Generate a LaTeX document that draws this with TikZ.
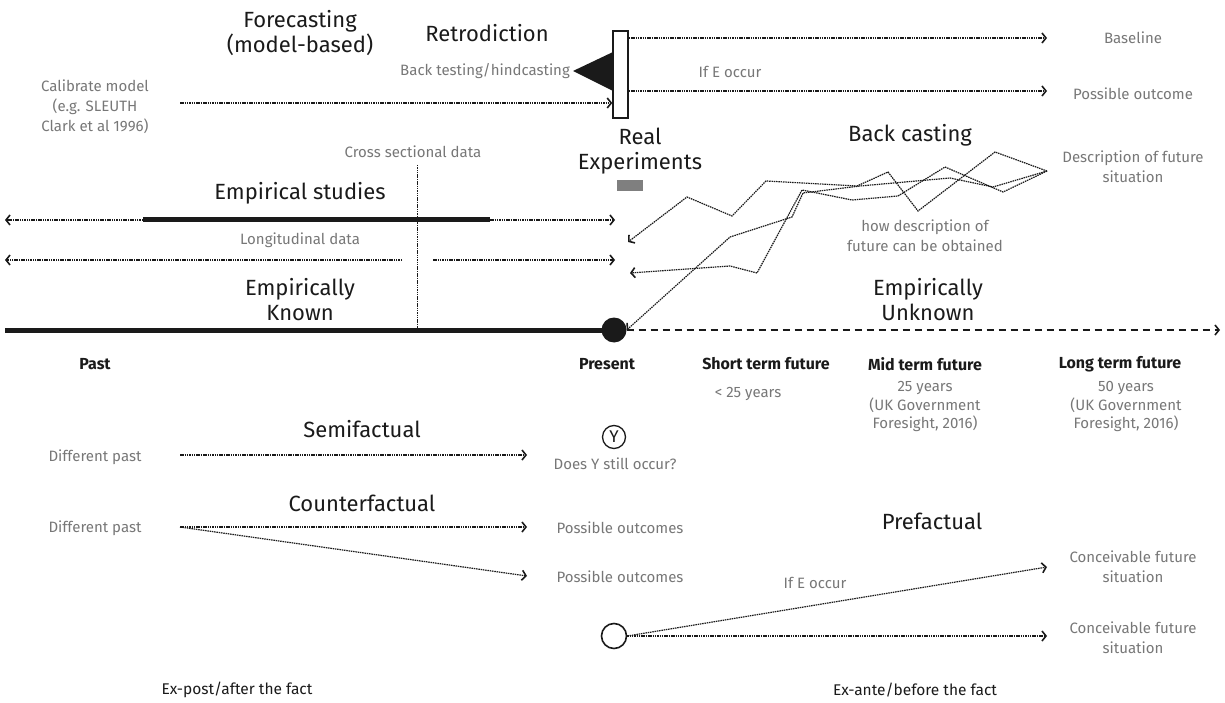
\documentclass[tikz,border=0pt]{standalone}
\usepackage{fontspec}
\setmainfont{Fira Sans}
\usetikzlibrary{arrows.meta}
\definecolor{ink}{HTML}{1A1A1A}
\definecolor{note}{HTML}{777777}
\definecolor{block}{HTML}{7F7F7F}
\tikzset{
  big/.style={font=\fontsize{22}{25}\selectfont, text=ink, align=center, inner sep=0pt},
  small/.style={font=\fontsize{15}{20}\selectfont, text=note, align=center, inner sep=0pt},
  era/.style={font=\bfseries\fontsize{16}{18}\selectfont, text=ink, inner sep=0pt},
  foot/.style={font=\fontsize{15.5}{19}\selectfont, text=ink, inner sep=0pt},
  dots/.style={draw=ink, line width=1.2pt, dash pattern=on 1.5pt off 0.8pt},
  tip/.style={-{Straight Barb[length=4pt,width=10pt,line width=1.6pt]}},
  heavy/.style={draw=ink, line width=5pt},
}
\begin{document}
\begin{tikzpicture}[x=1pt,y=-1pt]
\useasboundingbox (0,0) rectangle (1225,703);

% ---------- forecasting / retrodiction ----------
\node[big] (fc) at (300,33) {Forecasting\\(model-based)};
\node[big] (retro) at (487,33) {Retrodiction};
\node[small] (calib) at (95,107) {Calibrate model\\(e.g. SLEUTH\\Clark et al 1996)};
\node[draw=ink, fill=white, line width=1.5pt, minimum width=15pt, minimum height=87pt, inner sep=0pt] (box) at (620.5,74.5) {};
\fill[ink] (613,52) -- (573,71) -- (613,91) -- cycle;
\node[small, anchor=east] (hind) at (570,71) {Back testing/hindcasting};
\coordinate (calibstart) at (180,103);
\draw[dots,tip] (calibstart) -- (box.west |- calibstart);

\node[small] (base) at (1133,38) {Baseline};
\node[small] (poss) at (1133,94) {Possible outcome};
\coordinate (baseend) at (1047,38);
\coordinate (possend) at (1047,91);
\draw[dots,tip] (box.east |- baseend) -- (baseend);
\draw[dots,tip] (box.east |- possend) -- (possend);
\node[small] (ife1) at (730,72) {If E occur};

\node[big] (real) at (640,151) {Real\\Experiments};
\fill[block] (617,180) rectangle (643,191);

% ---------- back casting ----------
\node[big] (bc) at (910,135) {Back casting};
\node[small] (desc) at (1133,167) {Description of future\\situation};
\node[small] (how) at (925,236) {how description of\\future can be obtained};
\coordinate (goal) at (1047,171);
\coordinate (bcA) at (628,242);
\coordinate (bcB) at (630,273);
\draw[dots,tip] (goal) -- (995,152) -- (918,211) -- (888,172) -- (857,186)
  -- (766,181) -- (732,216) -- (687,197) -- (bcA);
\draw[dots,tip] (goal) -- (1003,192) -- (945,167) -- (898,196) -- (852,200)
  -- (802,190) -- (757,273) -- (730,266) -- (bcB);

% ---------- empirical studies ----------
\node[small] (cross) at (413,152) {Cross sectional data};
\coordinate (crosstop) at (417,165);
\node[big] (emp) at (300,193) {Empirical studies};
\coordinate (es1) at (143,220);
\coordinate (es2) at (490,220);
\coordinate (esL) at (5,220);
\coordinate (esR) at (615,220);
\draw[heavy] (es1) -- (es2);
\draw[dots,tip] (es2) -- (esR);
\draw[dots,tip] (es1) -- (esL);
\node[small] (long) at (300,240) {Longitudinal data};
\coordinate (lg1) at (402,260);
\coordinate (lg2) at (433,260);
\coordinate (lgL) at (5,260);
\coordinate (lgR) at (615,260);
\draw[dots,tip] (lg1) -- (lgL);
\draw[dots,tip] (lg2) -- (lgR);
\node[big] (known) at (300,300) {Empirically\\Known};
\node[big] (unknown) at (928,300) {Empirically\\Unknown};

% ---------- time axis ----------
\coordinate (axL) at (5,330);
\coordinate (axR) at (1220,330);
\node[circle, fill=ink, minimum size=25pt, inner sep=0pt] (now) at (614,330) {};
\draw[dots, line width=0.9pt] (crosstop) -- (crosstop |- axL);
\draw[heavy] (axL) -- (now.center);
\draw[ink, line width=1.5pt, dash pattern=on 7pt off 5pt, tip] (now.east) -- (axR);
\draw[dots,tip] (goal) -- (993,187) -- (950,178) -- (860,186) -- (803,193)
  -- (792,217) -- (730,237) -- (now.east);

\node[era] (past) at (95,364) {Past};
\node[era] (pres) at (607,364) {Present};
\node[era] (short) at (766,364) {Short term future};
\node[era] (mid) at (925,364) {Mid term future};
\node[era] (longt) at (1120,364) {Long term future};
\node[small] (shortn) at (748,394) {< 25 years};
\node[small, font=\fontsize{15}{18.5}\selectfont] (midn) at (925,407) {25 years\\(UK Government\\Foresight, 2016)};
\node[small, font=\fontsize{15}{18.5}\selectfont] (longn) at (1126,407) {50 years\\(UK Government\\Foresight, 2016)};

% ---------- semifactual / counterfactual ----------
\node[circle, draw=ink, line width=1.3pt, minimum size=23pt, inner sep=0pt, font=\fontsize{17}{17}\selectfont, text=ink] (y) at (614,437) {Y};
\node[big] (semi) at (362,429) {Semifactual};
\node[small] (dp1) at (95,457) {Different past};
\node[small] (still) at (615,464) {Does Y still occur?};
\coordinate (sf1) at (180,455);
\coordinate (sf2) at (527,455);
\draw[dots,tip] (sf1) -- (sf2);

\node[big] (counter) at (362,503) {Counterfactual};
\node[small] (dp2) at (95,528) {Different past};
\node[small] (po1) at (620,528) {Possible outcomes};
\node[small] (po2) at (620,577) {Possible outcomes};
\coordinate (cf0) at (180,527);
\coordinate (cf1) at (527,527);
\coordinate (cf2) at (527,576);
\draw[dots,tip] (cf0) -- (cf1);
\draw[dots,tip] (cf0) -- (cf2);

% ---------- prefactual ----------
\node[big] (pre) at (932,521) {Prefactual};
\node[circle, draw=ink, line width=1.6pt, minimum size=25pt, inner sep=0pt] (start) at (614,636) {};
\node[small] (cv1) at (1133,567) {Conceivable future\\situation};
\node[small] (cv2) at (1133,638) {Conceivable future\\situation};
\coordinate (pf1) at (1047,567);
\coordinate (pf2) at (1047,636);
\draw[dots,tip] (start.east) -- (pf1);
\draw[dots,tip] (start.east) -- (pf2);
\node[small] (ife2) at (815,583) {If E occur};

\node[foot] (expost) at (237,690) {Ex-post/after the fact};
\node[foot] (exante) at (915,690) {Ex-ante/before the fact};
\end{tikzpicture}
\end{document}
